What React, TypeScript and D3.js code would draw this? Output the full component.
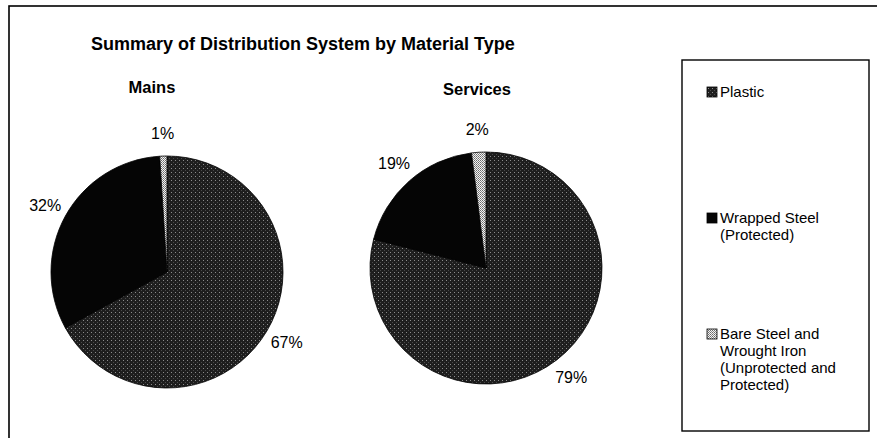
import React from "react";
import * as d3 from "d3";

const categories = ["Plastic", "Wrapped Steel (Protected)", "Bare Steel and Wrought Iron (Unprotected and Protected)"];
const legendLines = [["Plastic"], ["Wrapped Steel", "(Protected)"], ["Bare Steel and", "Wrought Iron", "(Unprotected and", "Protected)"]];
const chartNames = ["Mains", "Services"];
const mainsValues = [67, 32, 1];
const servicesValues = [79, 19, 2];
const title = "Summary of Distribution System by Material Type";

const W = 877;
const H = 438;
const FONT = "'Liberation Sans', Arial, sans-serif";

const fills = ["url(#patPlastic)", "#050505", "url(#patBare)"];

const pies = [
  { name: chartNames[0], values: mainsValues, cx: 167, cy: 272, titleX: 152, titleY: 93 },
  { name: chartNames[1], values: servicesValues, cx: 486, cy: 268, titleX: 477, titleY: 95 },
];

const R = 116;
const LABEL_R = 139;

const legendLayout = [
  { markerY: 87, textY: 97 },
  { markerY: 213, textY: 223 },
  { markerY: 329, textY: 339 },
];

export default function App() {
  const pieGen = d3
    .pie<number>()
    .sort(null)
    .value((d) => d)
    .startAngle(0)
    .endAngle(2 * Math.PI);
  const arc = d3.arc<d3.PieArcDatum<number>>().innerRadius(0).outerRadius(R);
  const labelArc = d3.arc<d3.PieArcDatum<number>>().innerRadius(LABEL_R).outerRadius(LABEL_R);

  return (
    <svg
      width={W}
      height={H}
      style={{ position: "absolute", left: 0, top: 0, background: "#fff" }}
      fontFamily={FONT}
    >
      <defs>
        <pattern id="patPlastic" width="4" height="4" patternUnits="userSpaceOnUse">
          <rect width="4" height="4" fill="#1e1e1e" />
          <rect x="0" y="0" width="1" height="1" fill="#8c8c8c" />
          <rect x="2" y="2" width="1" height="1" fill="#4a4a4a" />
        </pattern>
        <pattern id="patBare" width="2" height="2" patternUnits="userSpaceOnUse">
          <rect width="2" height="2" fill="#f4f4f4" />
          <rect x="0" y="0" width="1" height="1" fill="#6a6a6a" />
          <rect x="1" y="1" width="1" height="1" fill="#8a8a8a" />
        </pattern>
      </defs>
      <rect x={0} y={0} width={W} height={H} fill="#fff" />
      {/* outer frame */}
      <rect x={9} y={6} width={900} height={500} fill="none" stroke="#000" strokeWidth={1.6} />

      <text x={91} y={50} fontSize={18} fontWeight="bold" fill="#000">
        {title}
      </text>

      {pies.map((p) => {
        const arcs = pieGen(p.values);
        return (
          <g key={p.name}>
            <text x={p.titleX} y={p.titleY} fontSize={16.5} fontWeight="bold" textAnchor="middle" fill="#000">
              {p.name}
            </text>
            <g transform={`translate(${p.cx},${p.cy})`}>
              {arcs.map((a, i) => (
                <path key={i} d={arc(a) || ""} fill={fills[i]} stroke="#000" strokeWidth={0.8} />
              ))}
              {arcs.map((a, i) => {
                const [lx, ly] = labelArc.centroid(a);
                return (
                  <text
                    key={"l" + i}
                    x={lx}
                    y={ly}
                    fontSize={16}
                    textAnchor="middle"
                    dominantBaseline="central"
                    fill="#000"
                  >
                    {`${a.data}%`}
                  </text>
                );
              })}
            </g>
          </g>
        );
      })}

      {/* legend */}
      <rect x={682} y={60} width={187} height={371} fill="#fff" stroke="#000" strokeWidth={1.4} />
      {categories.map((c, i) => (
        <g key={c}>
          <rect
            x={707}
            y={legendLayout[i].markerY}
            width={10}
            height={10}
            fill={fills[i]}
            stroke="#000"
            strokeWidth={0.8}
          />
          <text x={720} y={legendLayout[i].textY} fontSize={15} fill="#000">
            {legendLines[i].map((line, j) => (
              <tspan key={j} x={720} dy={j === 0 ? 0 : 17}>
                {line}
              </tspan>
            ))}
          </text>
        </g>
      ))}
    </svg>
  );
}
